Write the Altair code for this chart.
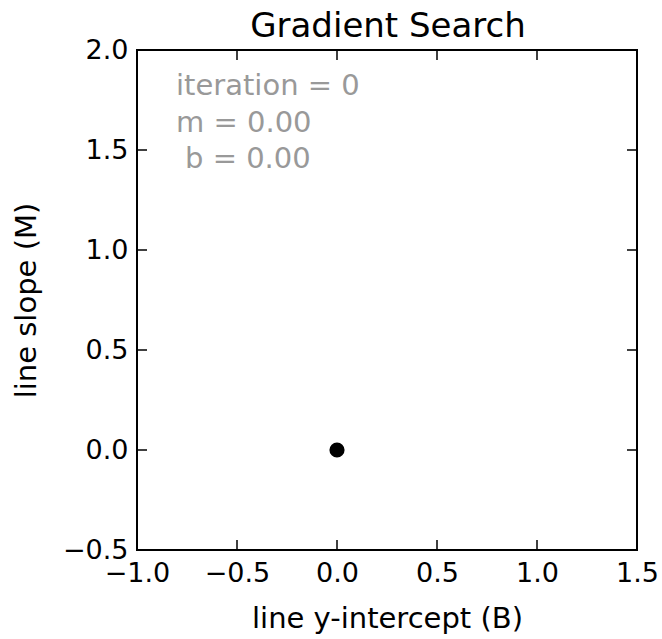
import altair as alt
import pandas as pd

# Data
title_text = ["Gradient Search"]
point_b = [0.0]
point_m = [0.0]
x_ticks = [-1.0, -0.5, 0.0, 0.5, 1.0, 1.5]
y_ticks = [-0.5, 0.0, 0.5, 1.0, 1.5, 2.0]
ann_text = ["iteration = 0", "m = 0.00"]
ann_b = [-0.805, -0.805]
ann_m = [1.775, 1.59]
ann2_text = ["b = 0.00"]
ann2_b = [-0.805]
ann2_m = [1.41]

W, H = 500, 500
FONT = "DejaVu Sans"

pts = pd.DataFrame({"B": point_b, "M": point_m})
xt = pd.DataFrame({"B": x_ticks})
yt = pd.DataFrame({"M": y_ticks})
ann = pd.DataFrame({"B": ann_b, "M": ann_m, "t": ann_text})
ann2 = pd.DataFrame({"B": ann2_b, "M": ann2_m, "t": ann2_text})
ttl = pd.DataFrame({"t": title_text})

xscale = alt.Scale(domain=[-1.0, 1.5], nice=False, zero=False)
yscale = alt.Scale(domain=[-0.5, 2.0], nice=False, zero=False)

xaxis = alt.Axis(values=x_ticks, format=".1f", title="line y-intercept (B)",
                 grid=False, domain=False, ticks=False, tickSize=0,
                 labelPadding=10, labelFontSize=27, labelFont=FONT, labelColor="black",
                 titleFontSize=29, titleFont=FONT, titleFontWeight="normal", titleColor="black",
                 titleBaseline="alphabetic", titleY=77, labelFlush=False)
yaxis = alt.Axis(values=y_ticks, format=".1f", title="line slope (M)",
                 grid=False, domain=False, ticks=False, tickSize=0,
                 labelPadding=9, labelFontSize=27, labelFont=FONT, labelColor="black",
                 titleFontSize=29, titleFont=FONT, titleFontWeight="normal", titleColor="black",
                 titleBaseline="alphabetic", titleX=-102, titleY=250, labelFlush=False)

X = alt.X("B:Q", scale=xscale, axis=xaxis)
Y = alt.Y("M:Q", scale=yscale, axis=yaxis)

point = alt.Chart(pts).mark_circle(size=230, color="black", opacity=1).encode(x=X, y=Y)

tick_bottom = alt.Chart(xt).mark_rule(color="black", strokeWidth=1.5).encode(
    x=X, y=alt.value(H), y2=alt.value(H - 10))
tick_top = alt.Chart(xt).mark_rule(color="black", strokeWidth=1.5).encode(
    x=X, y=alt.value(0), y2=alt.value(10))
tick_left = alt.Chart(yt).mark_rule(color="black", strokeWidth=1.5).encode(
    y=Y, x=alt.value(0), x2=alt.value(10))
tick_right = alt.Chart(yt).mark_rule(color="black", strokeWidth=1.5).encode(
    y=Y, x=alt.value(W), x2=alt.value(W - 10))

text = alt.Chart(ann).mark_text(align="left", baseline="alphabetic", font=FONT,
                                fontSize=29, color="#999999").encode(x=X, y=Y, text="t:N")
text2 = alt.Chart(ann2).mark_text(align="left", baseline="alphabetic", font=FONT,
                                  fontSize=29, color="#999999", dx=9).encode(x=X, y=Y, text="t:N")

title = alt.Chart(ttl).mark_text(align="center", baseline="alphabetic", font=FONT,
                                 fontSize=34, color="black").encode(
    text="t:N", x=alt.value(W / 2 + 1), y=alt.value(-13))

chart = alt.layer(tick_bottom, tick_top, tick_left, tick_right, text, text2, point, title).properties(
    width=W, height=H,
    autosize=alt.AutoSizeParams(type="none"),
    padding={"left": 137, "top": 50, "right": 25, "bottom": 89},
    background="white",
).configure_view(stroke="black", strokeWidth=2)

chart.save("out.html", embed_options={"renderer": "svg", "actions": False})
